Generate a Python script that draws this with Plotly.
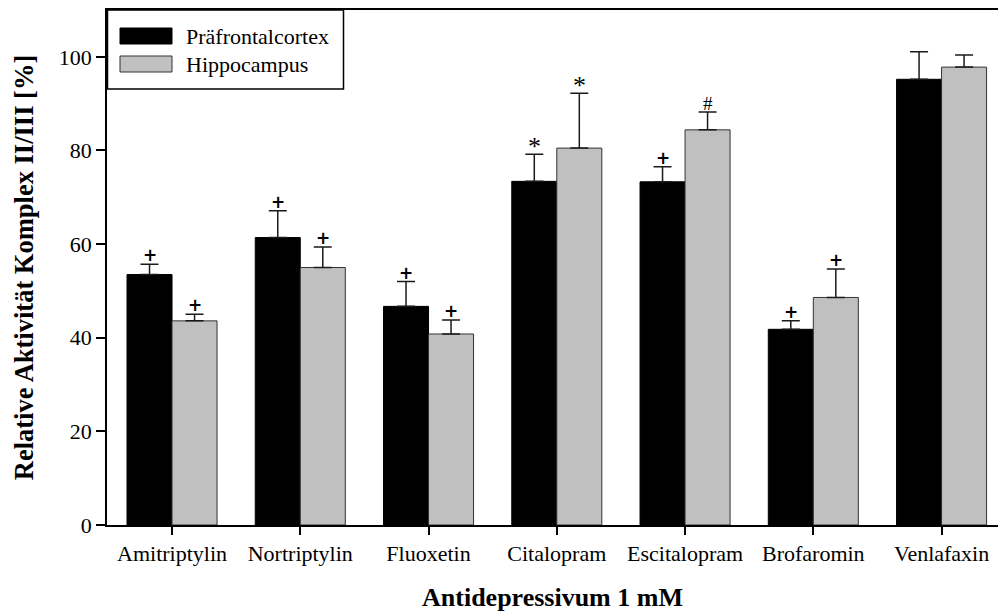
import plotly.graph_objects as go

categories = ["Amitriptylin", "Nortriptylin", "Fluoxetin", "Citalopram",
              "Escitalopram", "Brofaromin", "Venlafaxin"]
pfc_values = [53.5, 61.4, 46.7, 73.4, 73.3, 41.8, 95.2]
pfc_errors = [2.2, 5.7, 5.3, 5.8, 3.2, 1.8, 5.9]
hip_values = [43.6, 55.0, 40.8, 80.5, 84.4, 48.6, 97.8]
hip_errors = [1.4, 4.4, 3.0, 11.7, 3.8, 6.1, 2.6]
pfc_marks = ["+", "+", "+", "*", "+", "+", ""]
hip_marks = ["+", "+", "+", "*", "#", "+", ""]
series_names = ["Präfrontalcortex", "Hippocampus"]
y_ticks = [0, 20, 40, 60, 80, 100]

FONT = "Liberation Serif, Times New Roman, serif"
PLUS_FONT = "DejaVu Sans, sans-serif"
BLACK = "#000000"
GRAY = "#c0c0c0"

fig = go.Figure()
fig.add_trace(go.Bar(
    name=series_names[0], x=categories, y=pfc_values,
    marker=dict(color=BLACK, line=dict(color=BLACK, width=1)),
    error_y=dict(type="data", symmetric=False, array=pfc_errors,
                 arrayminus=[0] * len(pfc_errors), width=9, thickness=1.5, color="#1a1a1a"),
    showlegend=False,
))
fig.add_trace(go.Bar(
    name=series_names[1], x=categories, y=hip_values,
    marker=dict(color=GRAY, line=dict(color="#333333", width=1)),
    error_y=dict(type="data", symmetric=False, array=hip_errors,
                 arrayminus=[0] * len(hip_errors), width=9, thickness=1.5, color="#1a1a1a"),
    showlegend=False,
))

annotations = []
for vals, errs, marks, shift in [(pfc_values, pfc_errors, pfc_marks, -22.5),
                                  (hip_values, hip_errors, hip_marks, 22.5)]:
    for c, v, e, m in zip(categories, vals, errs, marks):
        if not m:
            continue
        if m == "+":
            txt, fam, fsize, ys = "<b>+</b>", PLUS_FONT, 17, 9
        elif m == "*":
            txt, fam, fsize, ys = "*", FONT, 26, 8
        else:
            txt, fam, fsize, ys = "#", FONT, 19, 9
        annotations.append(dict(x=c, y=v + e, xref="x", yref="y", text=txt,
                                showarrow=False, xshift=shift, yshift=ys,
                                yanchor="middle", xanchor="center",
                                font=dict(family=fam, size=fsize, color=BLACK)))

# legend (drawn manually to match the boxed legend with wide swatches)
W = 891.0
H = 515.0
def px_x(p):
    return (p - 107.0) / W
def px_y(p):
    return (525.0 - p) / H

shapes = [
    dict(type="rect", xref="paper", yref="paper", x0=px_x(107.5), x1=px_x(343.5),
         y0=px_y(89), y1=px_y(10), line=dict(color=BLACK, width=1.5), fillcolor="white",
         layer="below"),
    dict(type="rect", xref="paper", yref="paper", x0=px_x(120), x1=px_x(172),
         y0=px_y(44), y1=px_y(28), line=dict(color=BLACK, width=1), fillcolor=BLACK),
    dict(type="rect", xref="paper", yref="paper", x0=px_x(120), x1=px_x(172),
         y0=px_y(72), y1=px_y(56), line=dict(color="#333333", width=1), fillcolor=GRAY),
]
annotations.append(dict(x=px_x(184), y=px_y(36.5), xref="paper", yref="paper",
                        text=series_names[0], showarrow=False, xanchor="left", yanchor="middle",
                        font=dict(family=FONT, size=22, color=BLACK)))
annotations.append(dict(x=px_x(184), y=px_y(64.5), xref="paper", yref="paper",
                        text=series_names[1], showarrow=False, xanchor="left", yanchor="middle",
                        font=dict(family=FONT, size=22, color=BLACK)))

fig.update_layout(
    width=998, height=615,
    margin=dict(l=107, r=0, t=10, b=90),
    paper_bgcolor="white", plot_bgcolor="white",
    barmode="group", bargap=0.298, bargroupgap=0,
    font=dict(family=FONT, color=BLACK),
    shapes=shapes, annotations=annotations,
    showlegend=False,
)
fig.update_xaxes(
    type="category", range=[-0.507, 6.44],
    showline=True, linecolor=BLACK, linewidth=1.5, mirror=True,
    ticks="outside", ticklen=8, tickwidth=1.5, tickcolor=BLACK,
    tickfont=dict(family=FONT, size=22, color=BLACK),
    showgrid=False, zeroline=False,
    title=dict(text="<b>Antidepressivum 1 mM</b>", standoff=23,
               font=dict(family=FONT, size=26, color=BLACK)),
)
fig.update_yaxes(
    range=[0, 110], tickvals=y_ticks,
    showline=True, linecolor=BLACK, linewidth=1.5,
    ticks="outside", ticklen=9, tickwidth=1.5, tickcolor=BLACK,
    tickfont=dict(family=FONT, size=22, color=BLACK),
    showgrid=False, zeroline=False,
    title=dict(text="<b>Relative Aktivität Komplex II/III [%]</b>", standoff=18,
               font=dict(family=FONT, size=26.5, color=BLACK)),
)

fig.write_html("out.html")
